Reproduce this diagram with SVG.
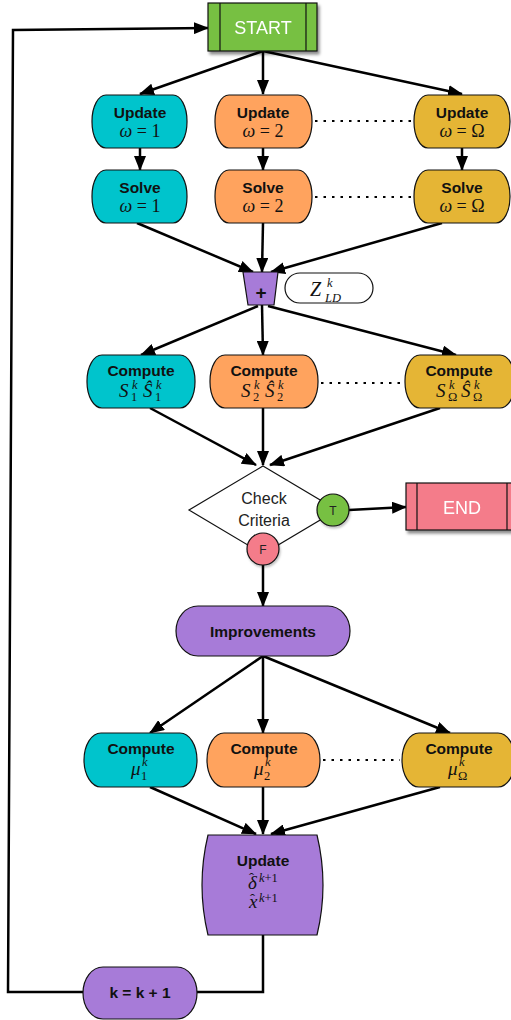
<svg xmlns="http://www.w3.org/2000/svg" width="511" height="1020" viewBox="0 0 511 1020">
  <defs>
    <marker id="arrow" markerUnits="userSpaceOnUse" markerWidth="15" markerHeight="12" refX="14" refY="6" orient="auto">
      <path d="M0,0 L15,6 L0,12 z" fill="#000"/>
    </marker>
    <filter id="shadow" x="-10%" y="-10%" width="130%" height="140%">
      <feDropShadow dx="2" dy="3" stdDeviation="1.5" flood-color="#000" flood-opacity="0.45"/>
    </filter>
    <filter id="soft" x="-10%" y="-10%" width="130%" height="140%">
      <feDropShadow dx="1" dy="2" stdDeviation="1" flood-color="#000" flood-opacity="0.25"/>
    </filter>
  </defs>
  <style>
    .node { stroke: #111; stroke-width: 1.2; }
    .cyan { fill: #00C4CC; }
    .orange { fill: #FFA35E; }
    .gold { fill: #E5B535; }
    .purple { fill: #A77BD8; }
    .green { fill: #77C043; }
    .pink { fill: #F47C8A; }
    .lbl { font-family: "Liberation Sans", Arial, sans-serif; font-weight: bold; font-size: 15.5px; fill: #111; text-anchor: middle; }
    .math { font-family: "Liberation Serif", "Times New Roman", serif; font-size: 19px; fill: #111; }
    .eq { font-family: "Liberation Serif", "Times New Roman", serif; font-size: 18px; fill: #111; text-anchor: middle; }
    .it { font-style: italic; }
    .sm { font-family: "Liberation Serif", "Times New Roman", serif; font-size: 12.5px; fill: #111; font-style: italic; }
    .smu { font-family: "Liberation Serif", "Times New Roman", serif; font-size: 12.5px; fill: #111; }
    .hat { font-family: "Liberation Serif", "Times New Roman", serif; font-size: 15px; fill: #111; }
    .term { font-family: "Liberation Sans", Arial, sans-serif; font-size: 18px; fill: #fff; text-anchor: middle; }
    .plain { font-family: "Liberation Sans", Arial, sans-serif; font-size: 16px; fill: #222; text-anchor: middle; }
    .wire { fill: none; stroke: #000; stroke-width: 2.5; }
    .dots { fill: none; stroke: #000; stroke-width: 2; stroke-dasharray: 2.5 6; }
  </style>

  <!-- connectors -->
  <g id="connectors">
    <line class="wire" x1="263" y1="51" x2="140" y2="94" marker-end="url(#arrow)"/>
    <line class="wire" x1="263" y1="51" x2="263" y2="94" marker-end="url(#arrow)"/>
    <line class="wire" x1="263" y1="51" x2="462" y2="94" marker-end="url(#arrow)"/>

    <line class="wire" x1="140" y1="148" x2="140" y2="170" marker-end="url(#arrow)"/>
    <line class="wire" x1="263" y1="148" x2="263" y2="170" marker-end="url(#arrow)"/>
    <line class="wire" x1="462" y1="148" x2="462" y2="170" marker-end="url(#arrow)"/>

    <line class="dots" x1="315" y1="121" x2="412" y2="121"/>
    <line class="dots" x1="315" y1="197" x2="412" y2="197"/>

    <line class="wire" x1="137" y1="223" x2="253" y2="272" marker-end="url(#arrow)"/>
    <line class="wire" x1="263" y1="223" x2="262" y2="272" marker-end="url(#arrow)"/>
    <line class="wire" x1="442" y1="223" x2="271" y2="272" marker-end="url(#arrow)"/>

    <line class="wire" x1="258" y1="306" x2="141" y2="355" marker-end="url(#arrow)"/>
    <line class="wire" x1="262" y1="305" x2="263" y2="355" marker-end="url(#arrow)"/>
    <line class="wire" x1="268" y1="306" x2="456" y2="355" marker-end="url(#arrow)"/>

    <line class="dots" x1="321" y1="383" x2="403" y2="383"/>

    <line class="wire" x1="150" y1="408" x2="256" y2="465" marker-end="url(#arrow)"/>
    <line class="wire" x1="263" y1="408" x2="263" y2="465" marker-end="url(#arrow)"/>
    <line class="wire" x1="440" y1="408" x2="270" y2="465" marker-end="url(#arrow)"/>

    <line class="wire" x1="349" y1="510" x2="406" y2="507" marker-end="url(#arrow)"/>
    <line class="wire" x1="263" y1="565" x2="263" y2="606" marker-end="url(#arrow)"/>

    <line class="wire" x1="263" y1="656" x2="150" y2="733" marker-end="url(#arrow)"/>
    <line class="wire" x1="263" y1="656" x2="263" y2="733" marker-end="url(#arrow)"/>
    <line class="wire" x1="263" y1="656" x2="450" y2="733" marker-end="url(#arrow)"/>

    <line class="dots" x1="323" y1="760" x2="400" y2="760"/>

    <line class="wire" x1="150" y1="787" x2="256" y2="834" marker-end="url(#arrow)"/>
    <line class="wire" x1="263" y1="787" x2="263" y2="834" marker-end="url(#arrow)"/>
    <line class="wire" x1="440" y1="787" x2="271" y2="834" marker-end="url(#arrow)"/>

    <polyline class="wire" points="263,935 263,992 197,992"/>
    <polyline class="wire" points="83,992 8,992 13,30 208,28" marker-end="url(#arrow)"/>
  </g>

  <!-- start terminal -->
  <g id="start" filter="url(#shadow)">
    <rect class="node green" x="208" y="3" width="109" height="48"/>
    <line x1="220" y1="3" x2="220" y2="51" stroke="#111" stroke-width="1.2"/>
    <line x1="306" y1="3" x2="306" y2="51" stroke="#111" stroke-width="1.2"/>
    <text class="term" x="263" y="34">START</text>
  </g>

  <!-- per-frequency update nodes -->
  <g id="update1">
    <rect class="node cyan" x="92" y="95" width="95" height="53" rx="14" ry="26"/>
    <text class="lbl" x="140" y="118">Update</text>
    <text class="eq" x="140" y="137"><tspan class="it">ω</tspan> = 1</text>
  </g>
  <g id="update2">
    <rect class="node orange" x="215" y="95" width="97" height="53" rx="14" ry="26"/>
    <text class="lbl" x="263" y="118">Update</text>
    <text class="eq" x="263" y="137"><tspan class="it">ω</tspan> = 2</text>
  </g>
  <g id="updateN">
    <rect class="node gold" x="414" y="95" width="96" height="53" rx="14" ry="26"/>
    <text class="lbl" x="462" y="118">Update</text>
    <text class="eq" x="462" y="137"><tspan class="it">ω</tspan> = Ω</text>
  </g>

  <!-- per-frequency solve nodes -->
  <g id="solve1">
    <rect class="node cyan" x="92" y="170" width="95" height="53" rx="14" ry="26"/>
    <text class="lbl" x="140" y="193">Solve</text>
    <text class="eq" x="140" y="212"><tspan class="it">ω</tspan> = 1</text>
  </g>
  <g id="solve2">
    <rect class="node orange" x="215" y="170" width="97" height="53" rx="14" ry="26"/>
    <text class="lbl" x="263" y="193">Solve</text>
    <text class="eq" x="263" y="212"><tspan class="it">ω</tspan> = 2</text>
  </g>
  <g id="solveN">
    <rect class="node gold" x="414" y="170" width="96" height="53" rx="14" ry="26"/>
    <text class="lbl" x="462" y="193">Solve</text>
    <text class="eq" x="462" y="212"><tspan class="it">ω</tspan> = Ω</text>
  </g>

  <!-- summation -->
  <g id="sum">
    <polygon class="node purple" points="243,272 278,272 274,305 248,305"/>
    <text class="lbl" x="261" y="299" style="font-size:19px">+</text>
  </g>
  <g id="zld">
    <rect x="285" y="273" width="88" height="30" rx="15" ry="15" fill="#fff" stroke="#111" stroke-width="1.2"/>
    <text class="math it" x="310" y="296" style="font-size:20px">Z</text>
    <text class="sm" x="327" y="287">k</text>
    <text class="sm" x="325" y="302">LD</text>
  </g>

  <!-- compute S nodes -->
  <g id="computeS1">
    <rect class="node cyan" x="87" y="355" width="108" height="53" rx="15" ry="26"/>
    <text class="lbl" x="141" y="376">Compute</text>
    <text class="math it" x="119" y="397">S</text>
    <text class="sm" x="132" y="389">k</text>
    <text class="smu" x="131" y="401">1</text>
    <text class="math it" x="143" y="397">Ŝ</text>
    <text class="sm" x="156" y="389">k</text>
    <text class="smu" x="155" y="401">1</text>
  </g>
  <g id="computeS2">
    <rect class="node orange" x="210" y="355" width="108" height="53" rx="15" ry="26"/>
    <text class="lbl" x="264" y="376">Compute</text>
    <text class="math it" x="241" y="397">S</text>
    <text class="sm" x="254" y="389">k</text>
    <text class="smu" x="253" y="401">2</text>
    <text class="math it" x="265" y="397">Ŝ</text>
    <text class="sm" x="278" y="389">k</text>
    <text class="smu" x="277" y="401">2</text>
  </g>
  <g id="computeSN">
    <rect class="node gold" x="405" y="355" width="110" height="53" rx="15" ry="26"/>
    <text class="lbl" x="459" y="376">Compute</text>
    <text class="math it" x="436" y="397">S</text>
    <text class="sm" x="449" y="389">k</text>
    <text class="smu" x="448" y="401">Ω</text>
    <text class="math it" x="461" y="397">Ŝ</text>
    <text class="sm" x="474" y="389">k</text>
    <text class="smu" x="473" y="401">Ω</text>
  </g>

  <!-- convergence check -->
  <g id="check">
    <polygon points="263,466 337,510 263,554 189,510" fill="#fff" stroke="#111" stroke-width="1.2"/>
    <text class="plain" x="264" y="504">Check</text>
    <text class="plain" x="264" y="526">Criteria</text>
  </g>
  <g id="true">
    <circle class="node green" cx="333" cy="510" r="16" filter="url(#soft)"/>
    <text class="plain" x="333" y="515" style="font-size:12px">T</text>
  </g>
  <g id="false">
    <circle class="node pink" cx="263" cy="549" r="16" filter="url(#soft)"/>
    <text class="plain" x="263" y="554" style="font-size:12px">F</text>
  </g>

  <!-- end terminal -->
  <g id="end" filter="url(#shadow)">
    <rect class="node pink" x="406" y="483" width="112" height="47"/>
    <line x1="417" y1="483" x2="417" y2="530" stroke="#111" stroke-width="1.2"/>
    <line x1="507" y1="483" x2="507" y2="530" stroke="#111" stroke-width="1.2"/>
    <text class="term" x="462" y="514">END</text>
  </g>

  <!-- improvements -->
  <g id="improvements">
    <rect class="node purple" x="176" y="606" width="174" height="50" rx="22" ry="25"/>
    <text class="lbl" x="263" y="637">Improvements</text>
  </g>

  <!-- compute mu nodes -->
  <g id="computeMu1">
    <rect class="node cyan" x="84" y="733" width="113" height="54" rx="17" ry="27"/>
    <text class="lbl" x="141" y="754">Compute</text>
    <text class="math it" x="131" y="775">μ</text>
    <text class="sm" x="142" y="766">k</text>
    <text class="smu" x="141" y="780">1</text>
  </g>
  <g id="computeMu2">
    <rect class="node orange" x="207" y="733" width="113" height="54" rx="17" ry="27"/>
    <text class="lbl" x="264" y="754">Compute</text>
    <text class="math it" x="254" y="775">μ</text>
    <text class="sm" x="265" y="766">k</text>
    <text class="smu" x="264" y="780">2</text>
  </g>
  <g id="computeMuN">
    <rect class="node gold" x="402" y="733" width="113" height="54" rx="17" ry="27"/>
    <text class="lbl" x="459" y="754">Compute</text>
    <text class="math it" x="448" y="775">μ</text>
    <text class="sm" x="459" y="766">k</text>
    <text class="smu" x="458" y="780">Ω</text>
  </g>

  <!-- global update: hats drawn as separate accent characters -->
  <g id="updateGlobal">
    <path class="node purple" d="M208,835 H317 Q329,885 317,935 H208 Q196,885 208,835 Z"/>
    <text class="lbl" x="263" y="866">Update</text>
    <text class="math it" x="248" y="889">δ</text>
    <text class="hat" x="249" y="883">ˆ</text>
    <text class="smu" x="259" y="882"><tspan class="it">k</tspan>+1</text>
    <text class="math it" x="249" y="908">x</text>
    <text class="hat" x="250" y="904">ˆ</text>
    <text class="smu" x="259" y="902"><tspan class="it">k</tspan>+1</text>
  </g>

  <!-- iteration counter -->
  <g id="increment">
    <rect class="node purple" x="83" y="967" width="114" height="52" rx="20" ry="26"/>
    <text class="lbl" x="140" y="998">k = k + 1</text>
  </g>
</svg>
